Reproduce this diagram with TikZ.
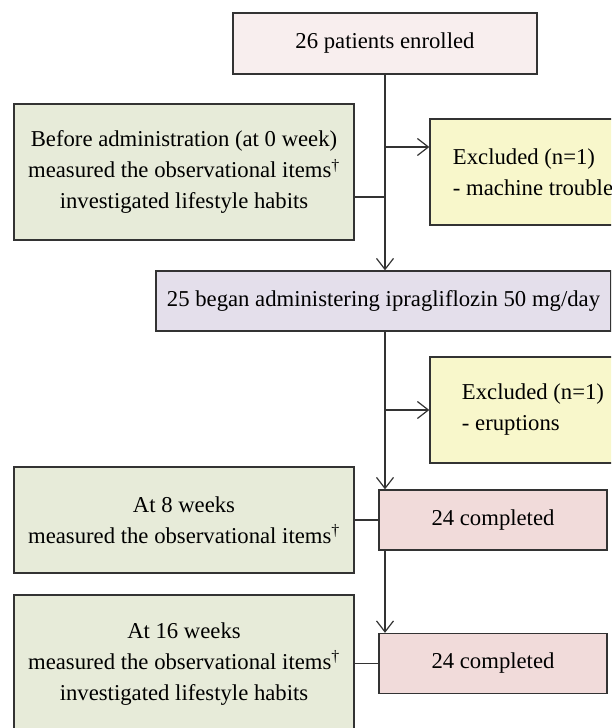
\documentclass[tikz,border=0pt]{standalone}
\usepackage{fontspec}
\setmainfont{Liberation Serif}
\usepackage{tikz}
\usetikzlibrary{arrows.meta}
\definecolor{enrolpink}{HTML}{F8EEEE}
\definecolor{visitgreen}{HTML}{E7EBD9}
\definecolor{exclyellow}{HTML}{F8F7CB}
\definecolor{treatpurple}{HTML}{E4DFEB}
\definecolor{donepink}{HTML}{F1DBDA}
\definecolor{edge}{HTML}{333333}
\tikzset{
    >={Straight Barb[length=11pt,width=17pt,line width=1.2pt]},
    flowbox/.style={
        rectangle,
        draw=edge, line width=1.3pt,
        inner sep=0pt,
        align=center,
        font=\fontsize{22.7pt}{31pt}\selectfont
    },
    line/.style={draw=edge, line width=1.2pt}
}

\begin{document}
\begin{tikzpicture}[
            x=1pt, y=-1pt,
            visit/.style={
                flowbox,
                fill=visitgreen,
                minimum width=340pt
            },
            excluded/.style={
                flowbox,
                fill=exclyellow,
                align=left,
                minimum width=206pt,
                minimum height=106pt
            },
            completed/.style={
                flowbox,
                fill=donepink,
                minimum width=228pt,
                minimum height=60pt
            }]
                \path[use as bounding box, clip] (0,0) rectangle (611,728);

                \node[flowbox, fill=enrolpink, minimum width=304pt, minimum height=61pt]
                    (enrolled) at (385,43.5) {26 patients enrolled};
                \node[visit, minimum height=136pt] (week0) at (184,172)
                    {Before administration (at 0 week)\\
                     measured the observational items\textsuperscript{†}\\
                     investigated lifestyle habits};
                \node[excluded] (excl1) at (533,172) {Excluded (n=1)\\- machine trouble};
                \node[flowbox, fill=treatpurple, minimum width=455pt, minimum height=60pt]
                    (began) at (383.5,301) {25 began administering ipragliflozin 50 mg/day};
                \node[excluded] (excl2) at (533,410) {Excluded (n=1)\\- eruptions};
                \node[visit, minimum height=106pt] (week8) at (184,520)
                    {At 8 weeks\\measured the observational items\textsuperscript{†}};
                \node[completed] (done8) at (493,520) {24 completed};
                \node[visit, minimum height=138pt] (week16) at (184,664)
                    {At 16 weeks\\
                     measured the observational items\textsuperscript{†}\\
                     investigated lifestyle habits};
                \node[completed] (done16) at (493,663.5) {24 completed};

                \coordinate (split1) at (385,147);
                \coordinate (join1) at (385,197);

                \path[line, ->] (enrolled.south) -- (enrolled.south |- began.north);
                \path[line, ->] (split1) -- (split1 -| excl1.west);
                \path[line] (week0.east |- join1) -- (join1);

                \path[line, ->] (began.south -| enrolled.south) -- (done8.north -| enrolled.south);
                \path[line, ->] (excl2.west -| enrolled.south) -- (excl2.west);
                \path[line] (week8.east) -- (done8.west);

                \path[line, ->] (done8.south -| enrolled.south) -- (done16.north -| enrolled.south);
                \path[line] (week16.east |- done16.west) -- (done16.west);
\end{tikzpicture}
\end{document}
